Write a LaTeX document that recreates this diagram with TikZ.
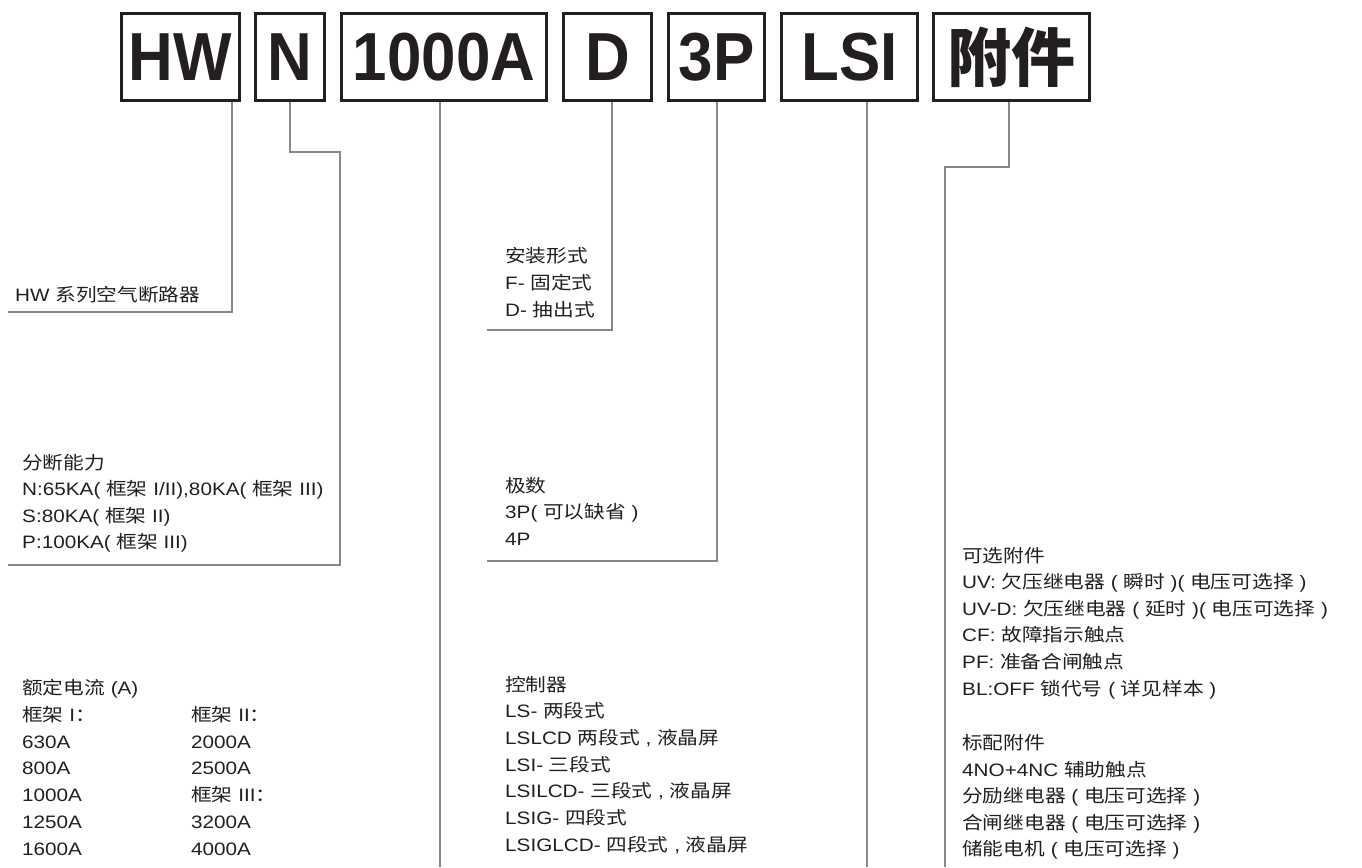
\documentclass[tikz,border=0pt]{standalone}
\usepackage{fontspec}
\setmainfont[FakeStretch=1.15]{Liberation Sans}
\newfontfamily\cjk[FakeStretch=1.15]{Noto Sans CJK SC}
\newfontfamily\boxlat[FakeStretch=0.91]{Liberation Sans}
\newfontfamily\boxcjk{Noto Sans CJK SC}
\newcommand\zh[1]{{\cjk #1}}
\definecolor{ink}{RGB}{35,31,32}
\definecolor{lgray}{RGB}{135,135,135}
\begin{document}
\begin{tikzpicture}[x=1pt,y=-1pt,
  lbl/.style={anchor=base west, inner sep=0pt, text=ink, font=\fontsize{18}{22}\selectfont},
  codebox/.style={draw=ink, line width=2.6pt, inner sep=0pt, text=ink, minimum height=87.4,
     font=\boxlat\bfseries\fontsize{68}{68}\selectfont},
  conn/.style={draw=lgray, line width=1.4pt}]
\path[use as bounding box] (0,0) rectangle (1362,867);

% code boxes
\node[codebox, minimum width=118.4] (hw)  at (180.5,57) {HW};
\node[codebox, minimum width=69.4]  (n)   at (290,57) {N};
\node[codebox, minimum width=205.4] (cur) at (444,57) {1000A};
\node[codebox, minimum width=88.4]  (d)   at (607.5,57) {D};
\node[codebox, minimum width=96.4]  (p)   at (716.5,57) {3P};
\node[codebox, minimum width=136.4] (lsi) at (849.5,57) {LSI};
\node[codebox, minimum width=156.4, font=\boxcjk\bfseries\fontsize{64}{64}\selectfont] (acc) at (1011.5,57) {附件};

% connector corners
\coordinate (hwA) at (232,312);  \coordinate (hwB) at (8,312);
\coordinate (nA) at (290,152);   \coordinate (nB) at (340,152);
\coordinate (nC) at (340,565);   \coordinate (nD) at (8,565);
\coordinate (curA) at (440,867);
\coordinate (dA) at (612,330);   \coordinate (dB) at (487,330);
\coordinate (pA) at (717,561);   \coordinate (pB) at (487,561);
\coordinate (lsiA) at (867,867);
\coordinate (accA) at (1009,167); \coordinate (accB) at (945,167);
\coordinate (accC) at (945,867);

\draw[conn] (hwA |- hw.south) -- (hwA) -- (hwB);
\draw[conn] (nA |- n.south) -- (nA) -- (nB) -- (nC) -- (nD);
\draw[conn] (curA |- cur.south) -- (curA);
\draw[conn] (dA |- d.south) -- (dA) -- (dB);
\draw[conn] (pA |- p.south) -- (pA) -- (pB);
\draw[conn] (lsiA |- lsi.south) -- (lsiA);
\draw[conn] (accA |- acc.south) -- (accA) -- (accB) -- (accC);

% labels
\node[lbl] (a0) at (15,301) {HW \zh{系列空气断路器}};

\foreach \t [count=\i from 0] in {
  {\zh{分断能力}},
  {N:65KA( \zh{框架} I/II),80KA( \zh{框架} III)},
  {S:80KA( \zh{框架} II)},
  {P:100KA( \zh{框架} III)}}
  \node[lbl] (b\i) at (22,{469+26.6*\i}) {\t};

\foreach \t [count=\i from 0] in {
  {\zh{额定电流} (A)}, {\zh{框架} I\zh{：}}, {630A}, {800A}, {1000A}, {1250A}, {1600A}}
  \node[lbl] (c\i) at (22,{694.5+26.75*\i}) {\t};
\foreach \t [count=\i from 1] in {
  {\zh{框架} II\zh{：}}, {2000A}, {2500A}, {\zh{框架} III\zh{：}}, {3200A}, {4000A}}
  \node[lbl] (cc\i) at (191,{694.5+26.75*\i}) {\t};

\foreach \t [count=\i from 0] in {
  {\zh{安装形式}}, {F- \zh{固定式}}, {D- \zh{抽出式}}}
  \node[lbl] (d\i) at (505,{262+27*\i}) {\t};

\foreach \t [count=\i from 0] in {
  {\zh{极数}}, {3P( \zh{可以缺省} )}, {4P}}
  \node[lbl] (e\i) at (505,{492.5+26.3*\i}) {\t};

\foreach \t [count=\i from 0] in {
  {\zh{控制器}}, {LS- \zh{两段式}}, {LSLCD \zh{两段式} , \zh{液晶屏}},
  {LSI- \zh{三段式}}, {LSILCD- \zh{三段式} , \zh{液晶屏}},
  {LSIG- \zh{四段式}}, {LSIGLCD- \zh{四段式} , \zh{液晶屏}}}
  \node[lbl] (f\i) at (505,{691+26.7*\i}) {\t};

\foreach \t [count=\i from 0] in {
  {\zh{可选附件}},
  {UV: \zh{欠压继电器} ( \zh{瞬时} )( \zh{电压可选择} )},
  {UV-D: \zh{欠压继电器} ( \zh{延时} )( \zh{电压可选择} )},
  {CF: \zh{故障指示触点}},
  {PF: \zh{准备合闸触点}},
  {BL:OFF \zh{锁代号} ( \zh{详见样本} )}}
  \node[lbl] (g\i) at (962,{562+26.6*\i}) {\t};
\foreach \t [count=\i from 0] in {
  {\zh{标配附件}},
  {4NO+4NC \zh{辅助触点}},
  {\zh{分励继电器} ( \zh{电压可选择} )},
  {\zh{合闸继电器} ( \zh{电压可选择} )},
  {\zh{储能电机} ( \zh{电压可选择} )}}
  \node[lbl] (h\i) at (962,{749.5+26.6*\i}) {\t};
\end{tikzpicture}
\end{document}
